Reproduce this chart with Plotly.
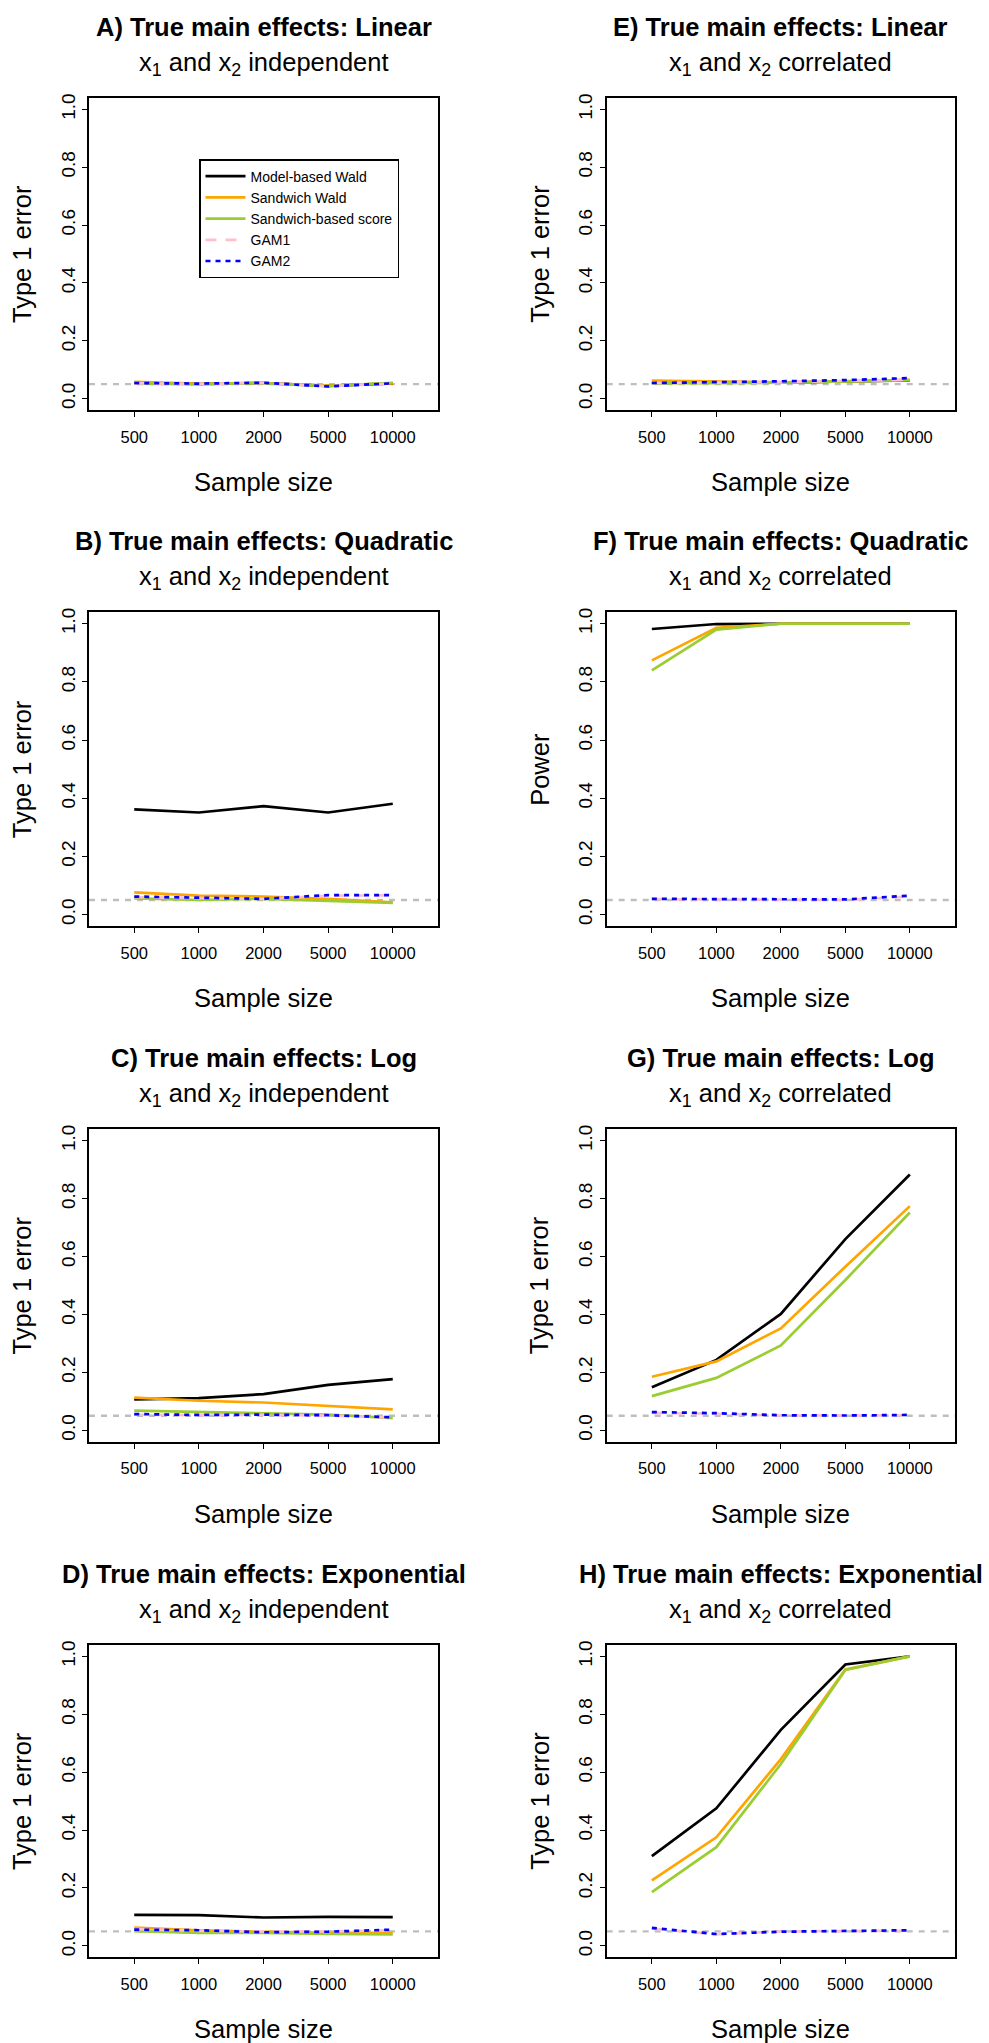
import plotly.graph_objects as go

# ---------------- data ----------------
sample_sizes = ["500", "1000", "2000", "5000", "10000"]
y_ticks = [0.0, 0.2, 0.4, 0.6, 0.8, 1.0]
y_tick_labels = ["0.0", "0.2", "0.4", "0.6", "0.8", "1.0"]
methods = ["Model-based Wald", "Sandwich Wald", "Sandwich-based score", "GAM1", "GAM2"]
nominal_level = 0.05

# A) Linear, independent
A_model_wald = [0.054, 0.051, 0.054, 0.044, 0.053]
A_sandwich_wald = [0.058, 0.052, 0.054, 0.045, 0.053]
A_sandwich_score = [0.052, 0.050, 0.053, 0.043, 0.055]
A_gam1 = [0.053, 0.051, 0.054, 0.043, 0.052]
A_gam2 = [0.054, 0.052, 0.055, 0.042, 0.053]

# B) Quadratic, independent
B_model_wald = [0.362, 0.351, 0.373, 0.351, 0.381]
B_sandwich_wald = [0.076, 0.065, 0.062, 0.054, 0.042]
B_sandwich_score = [0.056, 0.050, 0.054, 0.048, 0.040]
B_gam1 = [0.060, 0.056, 0.054, 0.065, 0.066]
B_gam2 = [0.062, 0.057, 0.054, 0.067, 0.067]

# C) Log, independent
C_model_wald = [0.107, 0.111, 0.125, 0.157, 0.177]
C_sandwich_wald = [0.113, 0.102, 0.096, 0.083, 0.072]
C_sandwich_score = [0.068, 0.063, 0.059, 0.054, 0.042]
C_gam1 = [0.054, 0.052, 0.053, 0.051, 0.044]
C_gam2 = [0.056, 0.053, 0.054, 0.052, 0.045]

# D) Exponential, independent
D_model_wald = [0.107, 0.106, 0.098, 0.100, 0.099]
D_sandwich_wald = [0.063, 0.054, 0.049, 0.045, 0.045]
D_sandwich_score = [0.051, 0.045, 0.045, 0.041, 0.040]
D_gam1 = [0.058, 0.052, 0.050, 0.050, 0.054]
D_gam2 = [0.056, 0.054, 0.047, 0.049, 0.056]

# E) Linear, correlated
E_model_wald = [0.055, 0.055, 0.055, 0.060, 0.063]
E_sandwich_wald = [0.062, 0.058, 0.056, 0.060, 0.065]
E_sandwich_score = [0.053, 0.055, 0.055, 0.060, 0.064]
E_gam1 = [0.054, 0.055, 0.057, 0.062, 0.066]
E_gam2 = [0.054, 0.056, 0.060, 0.064, 0.071]

# F) Quadratic, correlated
F_model_wald = [0.982, 0.999, 1.000, 1.000, 1.000]
F_sandwich_wald = [0.874, 0.986, 1.000, 1.000, 1.000]
F_sandwich_score = [0.840, 0.980, 1.000, 1.000, 1.000]
F_gam1 = [0.053, 0.052, 0.049, 0.050, 0.062]
F_gam2 = [0.054, 0.053, 0.051, 0.052, 0.065]

# G) Log, correlated
G_model_wald = [0.149, 0.243, 0.402, 0.660, 0.883]
G_sandwich_wald = [0.185, 0.238, 0.352, 0.565, 0.774]
G_sandwich_score = [0.118, 0.181, 0.293, 0.519, 0.752]
G_gam1 = [0.060, 0.057, 0.051, 0.051, 0.052]
G_gam2 = [0.063, 0.059, 0.052, 0.051, 0.053]

# H) Exponential, correlated
H_model_wald = [0.310, 0.475, 0.746, 0.972, 1.000]
H_sandwich_wald = [0.226, 0.375, 0.645, 0.955, 1.000]
H_sandwich_score = [0.186, 0.341, 0.628, 0.953, 1.000]
H_gam1 = [0.060, 0.040, 0.050, 0.050, 0.052]
H_gam2 = [0.062, 0.041, 0.049, 0.051, 0.054]

panel_titles = [
    "A) True main effects: Linear",
    "B) True main effects: Quadratic",
    "C) True main effects: Log",
    "D) True main effects: Exponential",
    "E) True main effects: Linear",
    "F) True main effects: Quadratic",
    "G) True main effects: Log",
    "H) True main effects: Exponential",
]
panel_subtitles = ["x<sub>1</sub> and x<sub>2</sub> independent"] * 4 + \
                  ["x<sub>1</sub> and x<sub>2</sub> correlated"] * 4
y_titles = ["Type 1 error"] * 5 + ["Power"] + ["Type 1 error"] * 2
x_title = "Sample size"

panel_series = [
    [A_model_wald, A_sandwich_wald, A_sandwich_score, A_gam1, A_gam2],
    [B_model_wald, B_sandwich_wald, B_sandwich_score, B_gam1, B_gam2],
    [C_model_wald, C_sandwich_wald, C_sandwich_score, C_gam1, C_gam2],
    [D_model_wald, D_sandwich_wald, D_sandwich_score, D_gam1, D_gam2],
    [E_model_wald, E_sandwich_wald, E_sandwich_score, E_gam1, E_gam2],
    [F_model_wald, F_sandwich_wald, F_sandwich_score, F_gam1, F_gam2],
    [G_model_wald, G_sandwich_wald, G_sandwich_score, G_gam1, G_gam2],
    [H_model_wald, H_sandwich_wald, H_sandwich_score, H_gam1, H_gam2],
]

# ---------------- styling / layout ----------------
W, H = 989, 2043
FONT = "Liberation Sans, Arial, Helvetica, sans-serif"
col_px = [(89.0, 438.0), (606.7, 955.0)]
row_px = [(94.0, 407.0), (609.3, 924.0), (1127.3, 1440.7), (1644.0, 1957.3)]

line_styles = [
    dict(color="#000000", width=2.7, dash="solid"),
    dict(color="#FFA500", width=2.7, dash="solid"),
    dict(color="#9ACD32", width=2.7, dash="solid"),
    dict(color="#FFC0CB", width=2.7, dash="11px,9px"),
    dict(color="#0000FF", width=2.7, dash="5px,5px"),
]

fig = go.Figure()
layout = dict(
    width=W, height=H,
    margin=dict(l=0, r=0, t=0, b=0),
    paper_bgcolor="white", plot_bgcolor="white",
    font=dict(family=FONT, color="black"),
    showlegend=True,
)
annotations = []
shapes = []

for k in range(8):
    col = k // 4
    row = k % 4
    ax = "" if k == 0 else str(k + 1)
    x0p, x1p = col_px[col]
    t_px, b_px = row_px[row]
    xdom = [x0p / W, x1p / W]
    ydom = [1 - b_px / H, 1 - t_px / H]
    layout["xaxis" + ax] = dict(
        domain=xdom, anchor="y" + ax, type="category",
        range=[-0.7, 4.7], categoryorder="array", categoryarray=sample_sizes,
        showline=True, mirror=True, linecolor="black", linewidth=1.6,
        ticks="outside", ticklen=5, tickwidth=1.4, tickcolor="black",
        showgrid=False, zeroline=False, fixedrange=True,
        tickfont=dict(size=16.5, family=FONT, color="black"),
        ticklabelstandoff=6,
    )
    layout["yaxis" + ax] = dict(
        domain=ydom, anchor="x" + ax,
        range=[-0.04, 1.04], tickvals=y_ticks, ticktext=y_tick_labels,
        tickangle=-90,
        showline=True, mirror=True, linecolor="black", linewidth=1.6,
        ticks="outside", ticklen=5, tickwidth=1.4, tickcolor="black",
        showgrid=False, zeroline=False, fixedrange=True,
        tickfont=dict(size=19, family=FONT, color="black"),
        ticklabelstandoff=0,
    )
    xref = "x" + ax
    yref = "y" + ax
    for j, (name, vals) in enumerate(zip(methods, panel_series[k])):
        fig.add_trace(go.Scatter(
            x=sample_sizes, y=vals, mode="lines", name=name,
            line=line_styles[j], showlegend=(k == 0),
            xaxis=xref, yaxis=yref,
        ))
    shapes.append(dict(
        type="line", xref=xref + " domain", yref=yref,
        x0=0, x1=1, y0=nominal_level, y1=nominal_level,
        line=dict(color="#BEBEBE", width=2.4, dash="6px,6px"), layer="below",
    ))
    annotations.append(dict(
        text="<b>" + panel_titles[k] + "</b>", xref=xref + " domain", yref=yref + " domain",
        x=0.5, y=1, xanchor="center", yanchor="middle", yshift=71, showarrow=False,
        font=dict(size=25.5, family=FONT, color="black"),
    ))
    annotations.append(dict(
        text=panel_subtitles[k], xref=xref + " domain", yref=yref + " domain",
        x=0.5, y=1, xanchor="center", yanchor="middle", yshift=34, showarrow=False,
        font=dict(size=25.5, family=FONT, color="black"),
    ))
    annotations.append(dict(
        text=x_title, xref=xref + " domain", yref=yref + " domain",
        x=0.5, y=0, xanchor="center", yanchor="middle", yshift=-72, showarrow=False,
        font=dict(size=25.5, family=FONT, color="black"),
    ))
    annotations.append(dict(
        text=y_titles[k], xref=xref + " domain", yref=yref + " domain",
        x=0, y=0.5, xanchor="center", yanchor="middle", xshift=-67, textangle=-90,
        showarrow=False, font=dict(size=25.5, family=FONT, color="black"),
    ))

layout["annotations"] = annotations
layout["shapes"] = shapes
layout["legend"] = dict(
    x=199 / W, y=1 - 215.0 / H, xanchor="left", yanchor="middle",
    bgcolor="white", bordercolor="black", borderwidth=1.5,
    font=dict(size=14, family=FONT, color="black"),
    tracegroupgap=0, itemwidth=40,
)
fig.update_layout(**layout)

fig.write_html("out.html", config={"displayModeBar": False},
               post_script="document.body.style.margin='0';")
